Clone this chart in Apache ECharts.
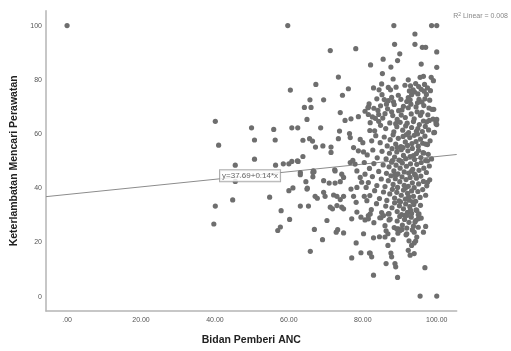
<!DOCTYPE html>
<html><head><meta charset="utf-8">
<script src="https://cdn.jsdelivr.net/npm/echarts@6/dist/echarts.min.js"></script>
<style>html,body{margin:0;padding:0;background:#fff}#c{width:511px;height:351px}</style>
</head><body><div id="c"></div>
<script>
// Axis tick values
const xTicks = [0, 20, 40, 60, 80, 100];
const yTicks = [0, 20, 40, 60, 80, 100];
// Fit line (from the chart annotation)
const intercept = 37.69;
const slope = 0.14;
const rSquared = '0.008';
// Sparse observations (x < ~81)
const pointsSparse = [
[0,100],[59.7,100],[40.1,64.7],[41.0,55.9],[40.1,33.4],[39.7,26.8],[44.8,35.7],[45.5,48.5],[45.5,42.5],
[49.9,62.3],[50.7,57.8],[50.7,50.7],[54.8,36.7],[55.9,61.7],[56.3,57.8],[56.4,48.5],[57.9,31.7],[57.7,25.7],
[57.0,24.4],[58.5,49.0],[60.0,49.0],[60.4,76.2],[60.8,62.3],[60.8,49.9],[62.5,49.9],[60.2,28.5],[61.1,40.1],
[60.0,39.1],[63.1,45.8],[66.5,45.8],[64.2,69.8],[66.0,69.8],[65.7,72.6],[69.4,72.6],[67.3,78.3],[71.2,90.8],
[78.1,91.5],[73.4,81.0],[76.1,76.7],[74.5,74.3],[73.9,67.9],[81.5,69.9],[80.6,68.4],[75.2,65.0],[76.8,65.6],
[78.8,66.4],[81.5,67.2],[82.0,64.2],[64.9,65.4],[62.4,62.3],[68.6,62.3],[73.7,61.1],[76.4,60.2],[76.6,58.7],
[79.3,58.0],[80.0,56.8],[63.8,57.7],[65.6,58.3],[66.4,57.4],[73.4,58.3],[67.2,55.2],[69.2,55.6],[71.4,55.2],
[71.4,53.2],[77.5,55.0],[78.8,53.8],[80.2,53.4],[62.3,50.1],[63.8,51.7],[76.6,49.5],[77.3,50.3],[77.9,48.9],
[80.4,49.5],[66.6,46.4],[66.5,44.2],[72.5,46.4],[74.3,45.2],[74.8,44.0],[78.4,46.4],[79.3,44.0],[80.6,45.2],
[64.6,42.4],[65.0,40.0],[69.4,42.8],[70.9,41.9],[72.5,41.9],[73.9,42.4],[76.8,39.7],[78.4,40.3],[79.7,42.2],
[80.9,40.3],[64.9,39.7],[69.4,38.5],[69.8,37.0],[67.1,37.0],[67.7,36.3],[72.1,37.5],[73.0,37.0],[73.9,35.8],
[74.8,37.0],[77.5,37.0],[78.2,34.8],[80.4,37.0],[81.1,35.4],[63.1,33.4],[65.3,33.4],[73.0,33.6],[74.3,33.0],
[71.2,33.0],[71.8,32.4],[74.8,32.4],[70.3,28.1],[77.0,28.7],[78.4,31.2],[79.5,29.3],[80.6,28.3],[81.5,29.9],
[66.9,24.8],[72.8,23.8],[73.2,24.7],[74.8,23.5],[80.2,23.2],[69.1,21.0],[78.2,19.8],[65.8,16.7],[79.5,16.2],
[81.8,16.1],[77.0,14.3],[72.4,46.8],[63.1,45.0],[66.8,46.1]
];
// Upper part of the dense group (y > ~65)
const pointsUpper = [
[82.1,85.5],[85.5,87.6],[89.4,87.1],[88.6,93.1],[88.4,100],[94.1,96.9],[94.1,93.1],[96.1,92],[97.0,92],
[98.6,100],[100,100],[100,90.3],[90.0,89.6],[87.6,84.7],[95.8,85.8],[100,84.6],[85.3,82.3],[88.2,80.3],
[92.3,80.0],[95.5,80.9],[96.4,81.3],[98.5,80.9],[99.1,79.7],[85.1,78.5],[82.9,77.0],[84.4,76.3],[86.9,77.2],
[87.5,76.3],[89.6,74.3],[81.7,71.1],[81.4,69.7],[85.8,72.7],[86.9,72.3],[88.3,71.9],[88.5,70.9],[91.9,72.0],
[92.3,73.4],[92.8,72.6],[93.2,74.5],[94.0,75.5],[94.9,74.8],[95.8,76.5],[96.6,75.8],[97.2,74.6],[93.6,76.3],
[92.6,75.9],[95.2,72.8],[96.8,73.0],[98.1,72.5],[97.9,69.6],[99.2,69.1],[96.5,70.5],[94.4,70.0],[91.0,70.2],
[89.7,68.6],[90.4,67.0],[87.8,68.2],[86.0,67.5],[84.3,67.2],[83.4,65.8],[84.3,64.7],[91.4,78.0],[92.9,77.8],
[94.3,78.6],[95.1,77.5],[93.0,71.0],[94.8,71.5],[96.0,71.8],[90.3,72.8],[89.0,77.3],[97.5,77.0],[98.3,76.0],
[96.7,78.3],[83.0,69.5],[84.8,70.4],[86.4,71.0],[87.8,73.5],[85.2,74.5],[83.8,73.0],
[82.6,66.3],[84.1,68.7],[85.4,65.9],[86.7,69.3],[88.1,66.8],[89.3,65.4],[90.6,68.9],[91.5,66.1],[92.3,69.7],
[93.1,67.4],[93.9,65.6],[94.7,68.2],[95.6,66.9],[96.4,64.8],[97.6,67.1],[99.0,65.5],[99.8,64.6],[99.8,63.8]
];
// Middle part of the dense group (y ~40-65)
const pointsMiddle = [
[81.9,61.3],[83.2,61.2],[84.8,63.2],[86.2,62.0],[87.3,64.1],[88.4,60.8],[89.2,62.7],[90.1,64.3],[90.8,61.4],
[91.6,63.0],[92.4,60.5],[93.2,62.4],[93.7,64.6],[94.5,61.0],[95.3,63.5],[96.1,60.9],[96.9,62.8],[97.8,61.5],
[99.4,60.6],[88.9,63.8],[92.0,64.0],[94.9,62.0],
[82.4,57.5],[83.5,59.4],[84.7,56.8],[85.8,58.9],[86.6,55.6],[87.4,57.9],[88.2,59.7],[88.9,56.3],[89.6,58.4],
[90.3,55.4],[90.9,59.1],[91.5,57.1],[92.1,55.8],[92.7,58.7],[93.3,56.5],[93.9,59.5],[94.4,57.2],[95.0,55.5],
[95.6,58.1],[96.2,56.6],[96.8,59.2],[97.5,56.1],[98.2,57.5],[89.3,55.0],[91.8,59.8],[94.8,60.0],
[81.2,52.3],[82.7,54.1],[83.9,51.2],[85.2,53.6],[86.3,50.8],[87.2,52.9],[87.9,54.6],[88.6,51.5],[89.2,53.4],
[89.8,50.4],[90.4,54.2],[91.0,52.1],[91.6,50.9],[92.2,53.8],[92.8,51.7],[93.4,54.7],[94.0,50.6],[94.5,52.8],
[95.1,54.0],[95.7,51.3],[96.3,53.1],[97.0,50.2],[97.7,52.5],[98.6,50.8],[88.0,50.2],[90.9,55.0],[93.7,52.0],
[81.8,47.3],[83.0,49.1],[84.3,46.2],[85.5,48.6],[86.4,45.5],[87.1,47.9],[87.8,49.6],[88.4,46.4],[89.0,48.5],
[89.5,45.3],[90.1,47.4],[90.7,49.3],[91.2,46.0],[91.8,48.1],[92.4,45.6],[92.9,49.0],[93.5,47.0],[94.0,45.2],
[94.6,48.8],[95.2,46.6],[95.8,49.5],[96.5,47.4],[97.2,45.8],[98.0,48.2],[88.7,45.0],[90.3,50.0],[93.2,46.3],
[81.5,42.1],[82.6,44.3],[83.8,41.0],[85.0,43.4],[86.0,40.6],[86.9,42.8],[87.6,44.6],[88.2,41.4],[88.8,43.5],
[89.4,40.3],[90.0,42.4],[90.6,44.2],[91.2,41.1],[91.7,43.2],[92.3,40.7],[92.8,44.0],[93.4,42.0],[93.9,40.2],
[94.5,43.7],[95.1,41.6],[95.7,44.5],[96.4,42.5],[97.3,40.9],[98.1,43.1],[89.1,45.0],[91.5,40.0],[94.2,44.8],
[97.5,50.1],[97.5,42.2],[97.0,56.3],[96.5,53.0],[99.2,60.5],[98.7,69.1],[100,65.4],[100,63.5],[98.0,65.0],
[97.3,64.5],[96.0,68.0]
];
// Lower part of the dense group (y < ~40)
const pointsLower = [
[81.9,37.3],[83.2,39.1],[84.5,36.2],[85.6,38.6],[86.5,35.5],[87.3,37.9],[88.0,39.6],[88.6,36.4],[89.2,38.5],
[89.8,35.3],[90.4,37.4],[91.0,39.3],[91.5,36.0],[92.1,38.1],[92.6,35.6],[93.2,39.0],[93.7,37.0],[94.3,35.2],
[94.9,38.8],[95.5,36.6],[96.2,39.5],[97.0,37.4],[92.4,36.9],[93.5,35.0],
[82.3,32.1],[83.7,34.3],[85.1,31.0],[86.2,33.4],[87.1,30.6],[87.9,32.8],[88.6,34.6],[89.3,31.4],[89.9,33.5],
[90.5,30.3],[91.0,32.4],[91.6,34.2],[92.1,31.1],[92.7,33.2],[93.2,30.7],[93.8,34.0],[94.4,32.0],[95.0,30.2],
[95.6,33.7],[92.9,31.9],[91.4,30.0],[90.2,35.0],
[83.0,27.3],[84.6,29.1],[86.0,26.2],[87.4,28.6],[88.5,25.5],[89.3,27.9],[90.0,29.6],[90.7,26.4],[91.3,28.5],
[91.9,25.3],[92.5,27.4],[93.1,29.3],[93.7,26.0],[94.3,28.1],[95.0,25.6],[95.8,29.0],[89.6,25.0],[92.0,30.0],
[84.5,22.1],[86.3,24.3],[88.2,21.0],[89.5,23.4],[90.6,24.8],[91.7,22.8],[92.5,20.6],[93.4,24.6],[94.6,22.0],
[96.4,23.8],[97.0,25.9],[89.2,25.0],[90.1,24.4],[91.9,23.2],[93.9,23.8],[94.3,20.5],[93.9,19.8],[93.2,18.9],
[82.9,21.7],[86.0,22.0],[86.8,23.2],[86.8,18.9],[82.0,16.1],[82.4,14.7],[87.6,16.1],[87.8,14.7],[86.3,12.2],
[88.7,12.2],[88.9,11.0],[82.9,7.9],[89.4,7.1],[96.8,10.7],[95.5,0.2],[100,0.2],[92.3,17.1],[92.8,15.3],
[93.9,15.9],[82.0,30.5],[81.5,28.7],[84.9,29.1],[85.6,29.9],[86.9,30.5],[87.1,28.3],[94.1,27.5],[95.0,28.7],
[95.2,30.5],[94.6,31.8]
];

const xMin = -5.7, xMax = 105.4, yMin = -5.3, yMax = 105.5;
const allPoints = pointsSparse.concat(pointsUpper, pointsMiddle, pointsLower);
const lineData = [[xMin, intercept + slope * xMin], [xMax, intercept + slope * xMax]];
const labelX = 49.5;

const chart = echarts.init(document.getElementById('c'));
const font = 'Liberation Sans, Arial, sans-serif';
chart.setOption({
  animation: false,
  grid: { left: 46, right: 54.3, top: 10.7, bottom: 38.3 },
  xAxis: {
    type: 'value', min: xMin, max: xMax,
    name: 'Bidan Pemberi ANC', nameLocation: 'middle', nameGap: 24,
    nameTextStyle: { fontFamily: font, fontWeight: 'bold', fontSize: 10.5, color: '#222' },
    axisLine: { show: true, onZero: false, lineStyle: { color: '#b5b5b5', width: 1.5 } },
    axisTick: { show: false },
    splitLine: { show: false },
    axisLabel: { customValues: xTicks, fontFamily: font, fontSize: 7, color: '#555', margin: 6,
      formatter: v => (v === 0 ? '.00' : v.toFixed(2)) }
  },
  yAxis: {
    type: 'value', min: yMin, max: yMax,
    name: 'Keterlambatan Mencari Perawatan', nameLocation: 'middle', nameGap: 21,
    nameTextStyle: { fontFamily: font, fontWeight: 'bold', fontSize: 10.5, color: '#222' },
    axisLine: { show: true, onZero: false, lineStyle: { color: '#b5b5b5', width: 1.5 } },
    axisTick: { show: false },
    splitLine: { show: false },
    axisLabel: { customValues: yTicks, fontFamily: font, fontSize: 7, color: '#555', margin: 4 }
  },
  graphic: [{
    type: 'text', right: 3, top: 12,
    style: { text: '{a|R}{s|2}{a| Linear = ' + rSquared + '}',
      rich: { a: { fontFamily: font, fontSize: 7, fill: '#888' }, s: { fontFamily: font, fontSize: 5, fill: '#888', verticalAlign: 'top', padding: [0,0,4,0] } } }
  }],
  series: [
    {
      type: 'line', data: lineData, symbol: 'none', silent: true,
      lineStyle: { color: '#8c8c8c', width: 1 }, z: 1
    },
    {
      type: 'scatter', data: allPoints, symbolSize: 5.2,
      itemStyle: { color: '#6e6e6e', opacity: 1 }, z: 2
    },
    {
      type: 'scatter', data: [[labelX, intercept + slope * labelX]], symbolSize: 0, z: 5,
      label: { show: true, position: 'inside', formatter: 'y=37.69+0.14*x',
        fontFamily: font, fontSize: 8, color: '#444', backgroundColor: '#fff',
        borderColor: '#999', borderWidth: 1, padding: [2, 2, 1, 2] }
    }
  ]
});
</script></body></html>
